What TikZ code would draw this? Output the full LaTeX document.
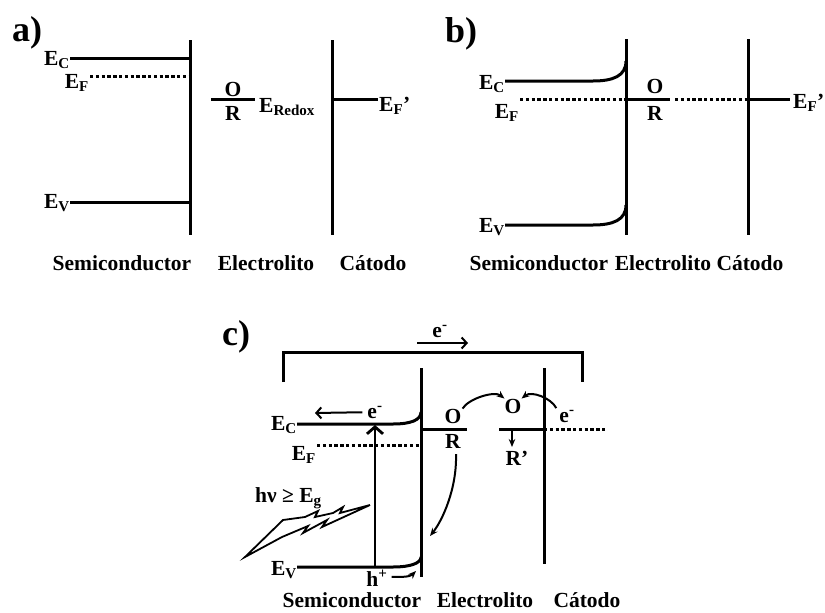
\documentclass[tikz,border=0pt]{standalone}
\usepackage{fontspec}
\setmainfont{Liberation Serif}
\usepackage{tikz}
\usetikzlibrary{arrows.meta}
\definecolor{inkclr}{RGB}{0,0,0}
\tikzset{
  % Niveles de energia
  bandline/.style  = {line width=3pt, draw=inkclr},
  fermidot/.style  = {line width=3pt, draw=inkclr, dash pattern=on 3.4pt off 2.4pt},
  wallline/.style  = {line width=3pt, draw=inkclr},
  % Flechas
  barbarrow/.style = {-{Straight Barb[length=5pt,width=11pt]}, line width=2pt, draw=inkclr},
  bigbarb/.style   = {-{Straight Barb[length=7pt,width=16pt]}, line width=2.8pt, draw=inkclr},
  curvearrow/.style= {-{Stealth[length=8pt,width=6.5pt]}, line width=2pt, draw=inkclr},
  % Etiquetas
  lab/.style       = {font=\fontsize{21.5}{24}\selectfont\bfseries, inner sep=0pt},
  panellab/.style  = {font=\fontsize{36}{40}\selectfont\bfseries, inner sep=0pt},
}

\begin{document}
\begin{tikzpicture}[x=1pt,y=-1pt]
  \useasboundingbox (0,0) rectangle (825,613);

  % ---------- a) ----------
  \node[panellab, anchor=base west] (pa) at (12,41) {a)};
  \draw[wallline] (190.7,40) -- (190.7,235);
  \draw[wallline] (332.7,40) -- (332.7,235);
  \draw[bandline] (70,58) -- (190.7,58);
  \draw[fermidot] (90,76) -- (190.7,76);
  \draw[bandline] (70,202) -- (190.7,202);
  \draw[bandline] (211,99) -- (255,99);
  \draw[bandline] (332.7,99) -- (378,99);
  \node[lab, anchor=base east] (ECa) at (70,65) {E\textsubscript{C}};
  \node[lab, anchor=base east] (EFa) at (89,88) {E\textsubscript{F}};
  \node[lab, anchor=base east] (EVa) at (70,208) {E\textsubscript{V}};
  \node[lab, anchor=base] (Oa) at (233,96) {O};
  \node[lab, anchor=base] (Ra) at (233,120) {R};
  \node[lab, anchor=base west] (ERa) at (259,112) {E\textsubscript{Redox}};
  \node[lab, anchor=base west] (EFpa) at (379,111) {E\textsubscript{F}’};
  \node[lab, anchor=base] (SCa) at (122,270) {Semiconductor};
  \node[lab, anchor=base] (ELa) at (266,270) {Electrolito};
  \node[lab, anchor=base] (CTa) at (373,270) {Cátodo};

  % ---------- b) ----------
  \node[panellab, anchor=base west] (pb) at (445,42) {b)};
  \draw[wallline] (626,39) -- (626,235);
  \draw[wallline] (748,39) -- (748,235);
  \draw[bandline] (505,81) -- (593,81) .. controls (613,81) and (626,76) .. (626,61);
  \draw[bandline] (505,225) -- (593,225) .. controls (613,225) and (626,220) .. (626,205);
  \draw[fermidot] (520,99) -- (626,99);
  \draw[bandline] (626,99) -- (670,99);
  \draw[fermidot] (675,99) -- (748,99);
  \draw[bandline] (748,99) -- (790,99);
  \node[lab, anchor=base east] (ECb) at (505,89) {E\textsubscript{C}};
  \node[lab, anchor=base east] (EFb) at (519,118) {E\textsubscript{F}};
  \node[lab, anchor=base east] (EVb) at (505,232) {E\textsubscript{V}};
  \node[lab, anchor=base] (Ob) at (655,93) {O};
  \node[lab, anchor=base] (Rb) at (655,120) {R};
  \node[lab, anchor=base west] (EFpb) at (793,108) {E\textsubscript{F}’};
  \node[lab, anchor=base] (SCb) at (539,270) {Semiconductor};
  \node[lab, anchor=base] (ELb) at (663,270) {Electrolito};
  \node[lab, anchor=base] (CTb) at (750,270) {Cátodo};

  % ---------- c) ----------
  \node[panellab, anchor=base west] (pc) at (222,345) {c)};
  % circuito externo
  \draw[bandline] (283,382) -- (283,352.7) -- (582,352.7) -- (582,382);
  \coordinate (wA) at (417,343);
  \coordinate (wB) at (468,343);
  \draw[barbarrow] (wA) -- (wB);
  \node[lab, anchor=base] (etop) at (440,337) {e\textsuperscript{-}};
  % interfaces
  \draw[wallline] (421,368) -- (421,577);
  \draw[wallline] (544,368) -- (544,564);
  % bandas
  \draw[bandline] (297,424) -- (393,424) .. controls (411,424) and (421,420) .. (421,412);
  \draw[bandline] (297,567) -- (393,567) .. controls (411,567) and (421,563) .. (421,557);
  \draw[fermidot] (317,445) -- (421,445);
  \draw[bandline] (421,429) -- (467,429);
  \draw[bandline] (499,429) -- (544,429);
  \draw[fermidot] (544,429) -- (605,429);
  \node[lab, anchor=base east] (ECc) at (297,430) {E\textsubscript{C}};
  \node[lab, anchor=base east] (EFc) at (316,460) {E\textsubscript{F}};
  \node[lab, anchor=base east] (EVc) at (297,575) {E\textsubscript{V}};
  % especies
  \node[lab, anchor=base] (Oe) at (453,423) {O};
  \node[lab, anchor=base] (Re) at (453,448) {R};
  \node[lab, anchor=base] (Oc) at (513,413) {O};
  \node[lab, anchor=base] (Rc) at (517,465) {R’};
  \node[lab, anchor=base] (ec) at (567,422) {e\textsuperscript{-}};
  \node[lab, anchor=base] (eC) at (375,418) {e\textsuperscript{-}};
  \node[lab, anchor=base] (hp) at (377,586) {h\textsuperscript{+}};
  \node[lab, anchor=base west] (hv) at (255,502) {hν ≥ E\textsubscript{g}};
  % excitacion
  \coordinate (vb) at (375,567);
  \coordinate (cb) at (375,425);
  \draw[bigbarb] (vb) -- (cb);
  \coordinate (eL) at (315,413);
  \draw[barbarrow] (eC.west) ++(-5,0) -- (eL);
  % transferencias
  \draw[curvearrow] (Oe.north east) ++(1,0) .. controls +(6,-10) and +(-10,-8) .. (Oc.north west);
  \draw[curvearrow] (ec.north west) ++(-3,-2) .. controls +(-5,-10) and +(10,-8) .. (Oc.north east);
  \coordinate (sc) at (430,536);
  \draw[curvearrow] (Re.south) ++(3,6) .. controls +(1,35) and +(12,-15) .. (sc);
  \coordinate (rd) at (512,447);
  \draw[curvearrow] (512,429) -- (rd);
  \coordinate (hs) at (416,571);
  \draw[curvearrow] (hp.east) ++(4,-1) .. controls +(10,0) and +(-6,6) .. (hs);
  % rayo de luz
  \draw[line width=1.8pt, line join=miter] (245,557) -- (283,520) -- (305,517) -- (318,511)
    -- (315,517) -- (333,513) -- (343,507) -- (340,513) -- (370,505) -- (322,527)
    -- (327,520) -- (303,533) -- (308,526) -- (282,537) -- cycle;
  \node[lab, anchor=base] (SCc) at (352,607) {Semiconductor};
  \node[lab, anchor=base] (ELc) at (485,607) {Electrolito};
  \node[lab, anchor=base] (CTc) at (587,607) {Cátodo};
\end{tikzpicture}
\end{document}
